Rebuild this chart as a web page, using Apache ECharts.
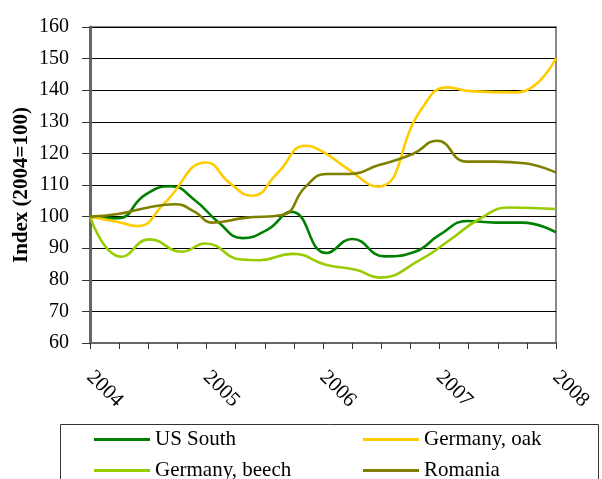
<!DOCTYPE html>
<html>
<head>
<meta charset="utf-8">
<script src="https://cdn.jsdelivr.net/npm/echarts@6/dist/echarts.min.js"></script>
<style>
  html, body { margin: 0; padding: 0; background: #fff; }
  #chart { width: 602px; height: 479px; }
</style>
</head>
<body>
<div id="chart"></div>
<script>
// values (x = fractional year)
const usSouthYears = [2004.0, 2004.24, 2004.47, 2004.69, 2004.9, 2005.1, 2005.31, 2005.52, 2005.73, 2006.03, 2006.25, 2006.53, 2006.79, 2007.0, 2007.24, 2007.48, 2007.71, 2008.0]
const usSouth = [100, 99.5, 106.8, 109.6, 105.2, 98.3, 93.2, 95.8, 101.5, 88.5, 92.9, 87.4, 88.9, 94.2, 98.6, 98.1, 98.1, 95.0]

const oakYears = [2004.0, 2004.24, 2004.41, 2004.64, 2005.0, 2005.2, 2005.39, 2005.61, 2005.85, 2006.0, 2006.2, 2006.47, 2006.84, 2007.07, 2007.26, 2007.66, 2008.0]
const oak = [100, 98.3, 97.0, 104.3, 117.1, 110.6, 106.6, 113.8, 122.4, 120.5, 115.4, 109.5, 133.7, 140.9, 139.7, 139.3, 150.1]

const beechYears = [2004.0, 2004.27, 2004.51, 2004.79, 2004.99, 2005.3, 2005.45, 2005.74, 2006.03, 2006.29, 2006.48, 2006.83, 2007.1, 2007.35, 2007.6, 2008.0]
const beech = [100, 87.3, 92.8, 88.9, 91.5, 86.4, 86.2, 88.2, 84.7, 83.1, 80.7, 86.2, 92.9, 99.4, 102.9, 102.4]

const romaniaYears = [2004.0, 2004.24, 2004.5, 2004.73, 2004.9, 2005.05, 2005.33, 2005.65, 2005.85, 2006.03, 2006.22, 2006.48, 2006.77, 2006.98, 2007.23, 2007.48, 2007.73, 2008.0]
const romania = [100, 100.8, 102.9, 103.9, 101.5, 98.1, 99.6, 100.5, 109.4, 113.5, 113.5, 116.3, 119.8, 124.0, 117.4, 117.4, 116.9, 113.9]

const yearTicks = [2004, 2005, 2006, 2007, 2008]

const zip = (xs, ys) => xs.map((x, i) => [x, ys[i]])

const font = 'Liberation Serif'

const makeLine = (name, years, values, color) => ({
  name,
  type: 'line',
  smooth: true,
  showSymbol: false,
  data: zip(years, values),
  lineStyle: { color, width: 2.6 },
  itemStyle: { color },
})

const legendBase = {
  orient: 'vertical',
  top: 429,
  height: 60,
  padding: 0,
  itemGap: 10,
  itemWidth: 56,
  itemHeight: 3,
  icon: 'rect',
  textStyle: { fontFamily: font, fontSize: 21, lineHeight: 20, color: '#000' },
}

const chart = echarts.init(document.getElementById('chart'))

const option = {
  animation: false,
  backgroundColor: '#fff',
  grid: {
    left: 90,
    right: 46,
    top: 27,
    bottom: 136,
    show: true,
    borderColor: '#888',
    borderWidth: 2,
  },
  xAxis: {
    type: 'value',
    min: 2004,
    max: 2008,
    interval: 0.25,
    axisLine: { lineStyle: { color: '#666', width: 2 } },
    axisTick: { length: 6, lineStyle: { color: '#333', width: 1 } },
    splitLine: { show: false },
    axisLabel: {
      rotate: -45,
      margin: 31,
      fontFamily: font,
      fontSize: 21,
      color: '#000',
      formatter: v => (yearTicks.includes(v) ? String(v) : ''),
    },
  },
  yAxis: {
    type: 'value',
    min: 60,
    max: 160,
    interval: 10,
    name: 'Index (2004=100)',
    nameLocation: 'middle',
    nameGap: 58,
    nameMoveOverlap: false,
    nameTextStyle: { fontFamily: font, fontSize: 21, fontWeight: 'bold', color: '#000' },
    axisLine: { show: true, lineStyle: { color: '#666', width: 3 } },
    axisTick: { show: true, length: 8, lineStyle: { color: '#333', width: 1 } },
    splitLine: { lineStyle: { color: '#000', width: 1 } },
    axisLabel: { margin: 21, fontFamily: font, fontSize: 20, color: '#000' },
  },
  legend: [
    Object.assign({}, legendBase, { data: ['US South', 'Germany, beech'], left: 94 }),
    Object.assign({}, legendBase, { data: ['Germany, oak', 'Romania'], left: 363 }),
  ],
  graphic: [
    {
      type: 'rect',
      shape: { x: 60.5, y: 424.5, width: 538, height: 80 },
      style: { fill: 'none', stroke: '#333', lineWidth: 1 },
      silent: true,
    },
  ],
  series: [
    makeLine('US South', usSouthYears, usSouth, '#008000'),
    makeLine('Germany, oak', oakYears, oak, '#FFCC00'),
    makeLine('Germany, beech', beechYears, beech, '#99CC00'),
    makeLine('Romania', romaniaYears, romania, '#808000'),
  ],
}

chart.setOption(option)
</script>
</body>
</html>
